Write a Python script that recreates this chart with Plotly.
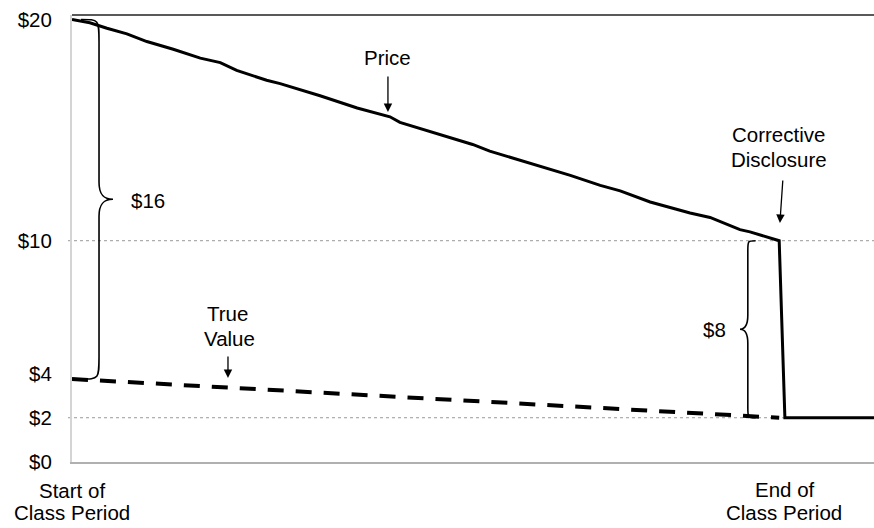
import plotly.graph_objects as go

# ---- data ----
period_t = [0, 2.5, 4.9, 7.7, 10.5, 14.2, 18.0, 20.8, 23.1, 27.3, 29.2, 33.4, 34.8, 40.0,
            44.6, 46.0, 51.6, 56.2, 58.6, 62.8, 65.6, 68.9, 69.9, 74.1, 76.9, 81.1, 86.7,
            89.5, 93.7, 95.1, 99.2, 100.0, 112.5]
price = [20.0, 19.85, 19.6, 19.35, 19.0, 18.65, 18.25, 18.05, 17.7, 17.25, 17.1, 16.7,
         16.55, 16.0, 15.6, 15.35, 14.8, 14.35, 14.05, 13.65, 13.35, 13.05, 12.95, 12.5,
         12.25, 11.75, 11.25, 11.05, 10.5, 10.4, 10.0, 2.0, 2.0]

true_t = [0, 99.2]
true_value = [3.75, 2.0]

y_tickvals = [0, 2, 4, 10, 20]
y_ticktext = ["$0", "$2", "$4", "$10", "$20"]
ref_levels = [10, 2]

FONT = "Liberation Sans, Arial, sans-serif"
FS = 20.5

fig = go.Figure()
fig.add_trace(go.Scatter(x=period_t, y=price, mode="lines",
                         line=dict(color="black", width=3), hoverinfo="skip"))
fig.add_trace(go.Scatter(x=true_t, y=true_value, mode="lines",
                         line=dict(color="black", width=4, dash="16px,12px"), hoverinfo="skip"))


def brace(xe, xs, xt, yt, yb, re, rt):
    ym = (yt + yb) / 2
    k = 0.3
    return (f"M {xe},{yt} C {xs},{yt} {xs},{yt} {xs},{yt - re} "
            f"L {xs},{ym + rt} "
            f"C {xs},{ym + rt * k} {xs + (xt - xs) * k},{ym} {xt},{ym} "
            f"C {xs + (xt - xs) * k},{ym} {xs},{ym - rt * k} {xs},{ym - rt} "
            f"L {xs},{yb + re} "
            f"C {xs},{yb} {xs},{yb} {xe},{yb}")


shapes = []
# top border line
shapes.append(dict(type="line", xref="paper", yref="paper", x0=0, x1=1, y0=1, y1=1,
                   line=dict(color="#222", width=1.5)))
# dotted reference lines
for lv in ref_levels:
    shapes.append(dict(type="line", xref="paper", yref="y", x0=-4 / 802, x1=1, y0=lv, y1=lv,
                       line=dict(color="#999", width=1, dash="dot"), layer="below"))
# braces
shapes.append(dict(type="path", xref="x", yref="y",
                   path=brace(1.26, 3.79, 5.75, price[0], true_value[0], 1.0, 0.77),
                   line=dict(color="black", width=1.6)))
shapes.append(dict(type="path", xref="x", yref="y",
                   path=brace(95.9, 94.8, 93.7, 10.0, 2.0, 0.45, 0.63),
                   line=dict(color="black", width=1.6)))

annotations = []


def txt(x, y, s, yref="y"):
    annotations.append(dict(x=x, y=y, xref="x", yref=yref, text=s, showarrow=False,
                            font=dict(family=FONT, size=FS, color="black"),
                            xanchor="center", yanchor="middle"))


def arrow(x, y, ax, ay):
    annotations.append(dict(x=x, y=y, xref="x", yref="y", text="", showarrow=True,
                            ax=ax, ay=ay, arrowhead=2, arrowsize=1.3, arrowwidth=1.3,
                            arrowcolor="black", standoff=0))


txt(44.25, 18.30, "Price")
arrow(44.32, 15.82, 0, -37)
txt(21.88, 6.73, "True")
txt(22.09, 5.56, "Value")
arrow(21.88, 3.80, 0, -23)
txt(99.16, 14.78, "Corrective")
txt(99.16, 13.69, "Disclosure")
arrow(99.3, 10.8, 3, -44)
txt(10.73, 11.84, "$16")
txt(90.18, 6.01, "$8")
txt(0, -0.0642, "Start of", yref="paper")
txt(0, -0.114, "Class Period", yref="paper")
txt(100.07, -0.0626, "End of", yref="paper")
txt(99.86, -0.114, "Class Period", yref="paper")

fig.update_layout(
    width=874, height=528,
    margin=dict(l=72, r=0, t=15, b=66),
    paper_bgcolor="white", plot_bgcolor="white",
    showlegend=False,
    shapes=shapes, annotations=annotations,
    xaxis=dict(range=[0, 112.5], showgrid=False, zeroline=False, showticklabels=False,
               showline=True, linecolor="#b0b0b0", linewidth=2, ticks=""),
    yaxis=dict(range=[0, 20.2], tickvals=y_tickvals, ticktext=y_ticktext,
               showgrid=False, zeroline=False, showline=True, linecolor="#d4d4d4",
               linewidth=2, ticks="", ticklabelstandoff=14,
               tickfont=dict(family=FONT, size=FS, color="black")),
)

fig.write_html("out.html")
